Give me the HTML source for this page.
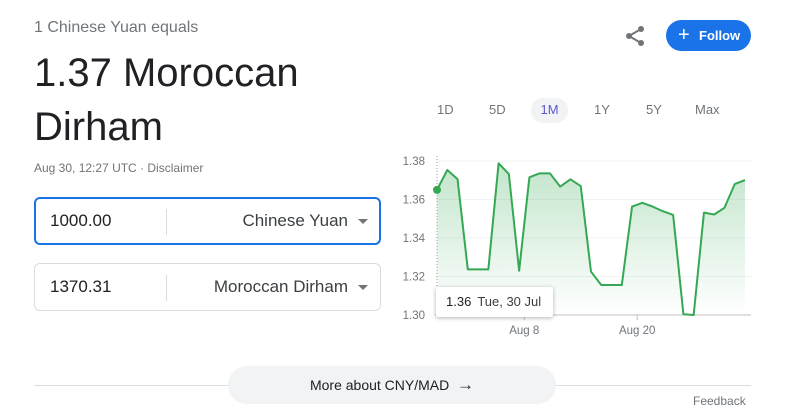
<!DOCTYPE html>
<html><head><meta charset="utf-8">
<style>
body{margin:0;width:804px;height:415px;background:#fff;font-family:"Liberation Sans",Arial,sans-serif;position:relative;overflow:hidden}
.a{position:absolute}
.box{position:absolute;left:34px;width:347px;height:48px;border:1px solid #dadce0;border-radius:6px;box-sizing:border-box}
.sep{position:absolute;left:131px;top:11px;width:1px;height:26px;background:#dadce0}
.val{position:absolute;left:15px;top:13px;font-size:17px;color:#202124}
.cur{position:absolute;right:32px;top:13px;font-size:17px;color:#3c4043}
.tri{position:absolute;right:12px;top:21px;width:0;height:0;border-left:5px solid transparent;border-right:5px solid transparent;border-top:5px solid #70757a}
.rng{position:absolute;top:102px;font-size:13px;color:#70757a}
</style></head><body>
<div class="a" style="left:34px;top:19px;font-size:16px;color:#70757a">1 Chinese Yuan equals</div>
<div class="a" style="left:34px;top:46px;font-size:40px;line-height:54px;color:#202124;width:330px">1.37 Moroccan Dirham</div>
<div class="a" style="left:34px;top:161px;font-size:12px;color:#70757a">Aug 30, 12:27 UTC · <span>Disclaimer</span></div>
<div class="box" style="top:197px;border:2px solid #1a73e8"><div class="val" style="left:14px;top:12px">1000.00</div><div class="sep" style="left:130px;top:10px"></div><div class="cur" style="top:12px;right:31px">Chinese Yuan</div><div class="tri" style="top:20px;right:11px"></div></div>
<div class="box" style="top:263px"><div class="val">1370.31</div><div class="sep"></div><div class="cur">Moroccan Dirham</div><div class="tri"></div></div>
<svg class="a" style="left:624px;top:24px" width="24" height="24" viewBox="0 0 24 24"><circle cx="17" cy="5" r="3" fill="#70757a"/><circle cx="5" cy="12" r="3" fill="#70757a"/><circle cx="17" cy="19" r="3" fill="#70757a"/><path d="M17 5L5 12L17 19" stroke="#70757a" stroke-width="2" fill="none"/></svg>
<div class="a" style="left:666px;top:20px;width:85px;height:31px;border-radius:16px;background:#1a73e8;color:#fff;font-size:13px;font-weight:bold;line-height:31px"><span style="position:absolute;left:12px;font-size:20px;font-weight:normal">+</span><span style="position:absolute;left:33px">Follow</span></div>
<div class="rng" style="left:437px">1D</div>
<div class="rng" style="left:489px">5D</div>
<div class="a" style="left:531px;top:98px;width:37px;height:25px;border-radius:12px;background:#f1f3f4;color:#5b57d1;font-size:13px;text-align:center;line-height:24px">1M</div>
<div class="rng" style="left:594px">1Y</div>
<div class="rng" style="left:646px">5Y</div>
<div class="rng" style="left:695px">Max</div>
<svg id="chart" class="a" style="left:0;top:0" width="804" height="415"></svg>
<div class="a" style="left:436px;top:287px;width:117px;height:30px;background:#fff;box-shadow:0 1px 4px rgba(0,0,0,.3);border-radius:2px;font-size:13px;color:#202124;line-height:30px"><span style="margin-left:10px">1.36</span><span style="margin-left:6px;color:#3c4043">Tue, 30 Jul</span></div>
<div class="a" style="left:34px;top:385px;width:717px;height:1px;background:#dadce0"></div>
<div class="a" style="left:228px;top:366px;width:328px;height:38px;border-radius:19px;background:#f1f3f4;font-size:14px;color:#202124;text-align:center;line-height:38px">More about CNY/MAD &nbsp;<span style="font-size:17px">→</span></div>
<div class="a" style="left:693px;top:394px;font-size:12px;color:#70757a">Feedback</div>
<script>
const values=[1.365,1.3753,1.3706,1.3237,1.3237,1.3237,1.3788,1.3732,1.323,1.3715,1.3736,1.3736,1.3667,1.3705,1.367,1.3225,1.3156,1.3156,1.3156,1.3563,1.3583,1.3563,1.3539,1.352,1.3004,1.3,1.3532,1.3522,1.3557,1.368,1.3701];
const yTicks=[1.30,1.32,1.34,1.36,1.38];
const yTickLabels=["1.30","1.32","1.34","1.36","1.38"];
const xTickPos=[8.5,19.5];
const xTickLabels=["Aug 8","Aug 20"];
const NS="http://www.w3.org/2000/svg",svg=document.getElementById('chart');
const x0=437,x1=745,yTop=161,yBot=315,vmin=1.30,vmax=1.38;
const X=i=>x0+(x1-x0)*i/(values.length-1);
const Y=v=>yBot-(v-vmin)/(vmax-vmin)*(yBot-yTop);
function mk(t,a){const e=document.createElementNS(NS,t);for(const k in a)e.setAttribute(k,a[k]);svg.appendChild(e);return e;}
const defs=mk('defs',{});defs.innerHTML='<linearGradient id="g" x1="0" y1="0" x2="0" y2="1"><stop offset="0" stop-color="#34a853" stop-opacity="0.3"/><stop offset="1" stop-color="#34a853" stop-opacity="0"/></linearGradient>';
yTicks.forEach((v,i)=>{
 const l=mk('line',{x1:x0-2,x2:751,y1:Y(v),y2:Y(v),stroke:i==0?'#bdc1c6':'#f1f3f4','stroke-width':1});
 
 const t=mk('text',{x:425,y:Y(v)+4,'text-anchor':'end','font-size':11.5,fill:'#70757a','font-family':'Liberation Sans'});t.textContent=yTickLabels[i];
 
});
xTickPos.forEach((p,i)=>{
 const l=mk('line',{x1:X(p),x2:X(p),y1:yBot,y2:yBot+5,stroke:'#bdc1c6'});
 
 const t=mk('text',{x:X(p),y:yBot+19,'text-anchor':'middle','font-size':11.5,fill:'#70757a','font-family':'Liberation Sans'});t.textContent=xTickLabels[i];
 
});
let d=values.map((v,i)=>(i?'L':'M')+X(i)+' '+Y(v)).join(' ');
const area=mk('path',{d:d+` L${X(values.length-1)} ${yBot} L${X(0)} ${yBot} Z`,fill:'url(#g)'});

const vl=mk('line',{x1:X(0),x2:X(0),y1:yTop-5,y2:yBot,stroke:'#9aa0a6','stroke-dasharray':'1,2'});

const line=mk('path',{d:d,fill:'none',stroke:'#34a853','stroke-width':2,'stroke-linejoin':'round'});

const dot=mk('circle',{cx:X(0),cy:Y(values[0]),r:4,fill:'#34a853'});

</script>
</body></html>
